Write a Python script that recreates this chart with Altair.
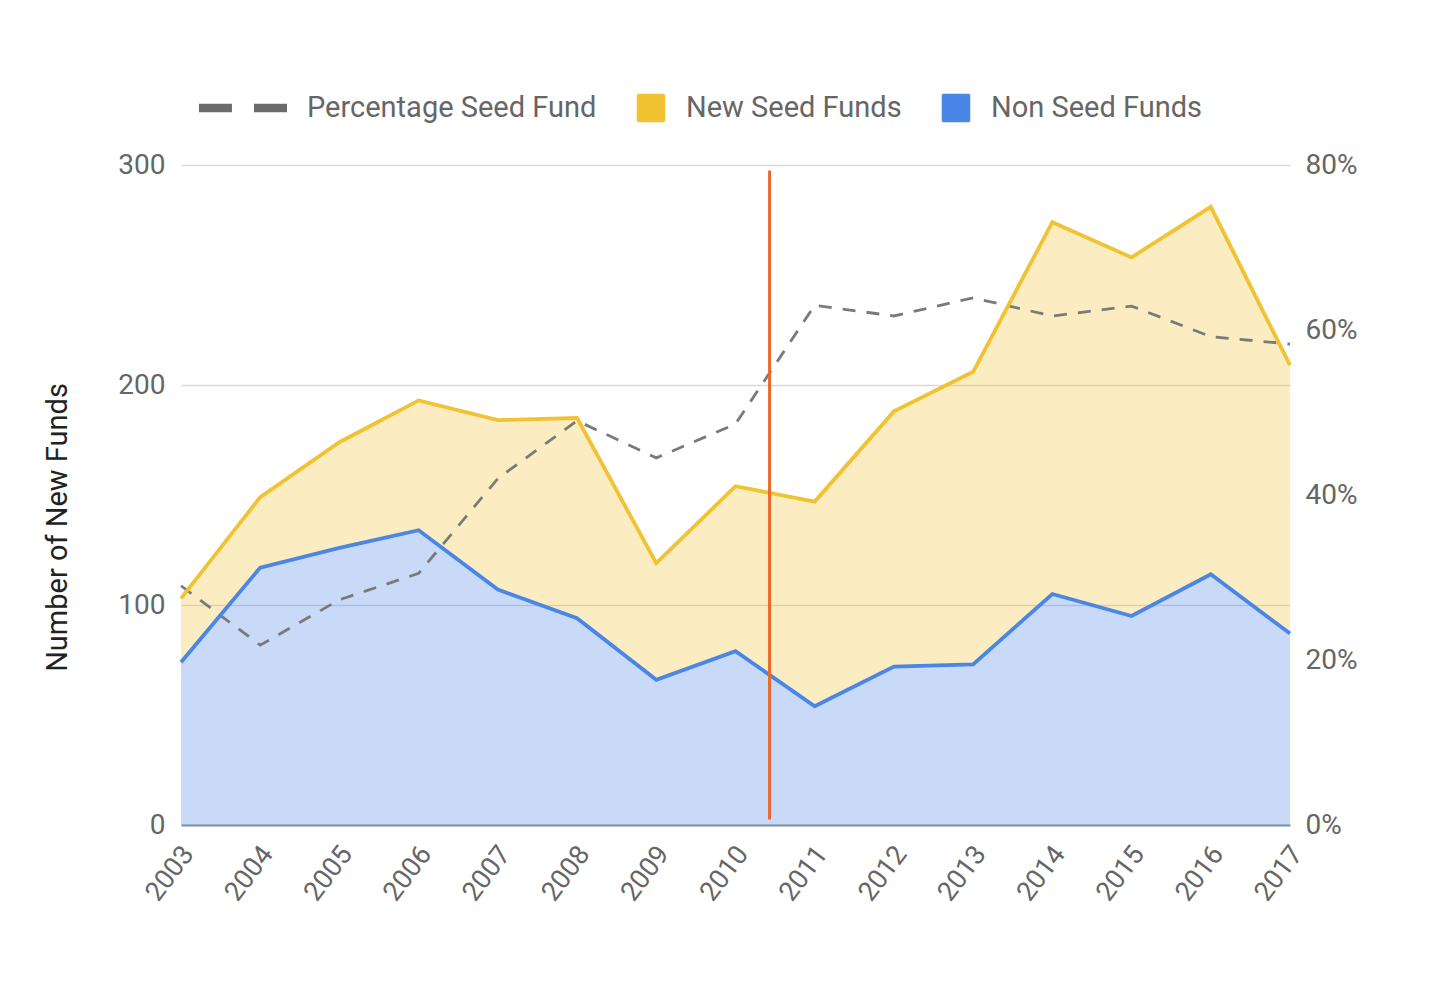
import altair as alt
import pandas as pd

# ---------------- data ----------------
years = list(range(2003, 2018))
non_seed = [74, 117, 126, 134, 107, 94, 66, 79, 54, 72, 73, 105, 95, 114, 87]
new_seed = [29, 32, 48, 59, 77, 91, 53, 75, 93, 116, 133, 169, 163, 167, 122]
pct_seed = [0.290, 0.218, 0.273, 0.305, 0.420, 0.490, 0.445, 0.486,
            0.630, 0.617, 0.639, 0.617, 0.629, 0.592, 0.583]

series_names = ["Percentage Seed Fund", "New Seed Funds", "Non Seed Funds"]
series_colors = ["#6b6b6b", "#F1C232", "#4A86E8"]

divider_year = [2010.43]
divider_low = [2.5]
divider_high = [297.5]

left_ticks = [0, 100, 200, 300]
right_ticks = [0, 0.2, 0.4, 0.6, 0.8]

# ---------------- tables ----------------
area_df = pd.DataFrame({
    "year": years + years,
    "series": ["Non Seed Funds"] * len(years) + ["New Seed Funds"] * len(years),
    "value": non_seed + new_seed,
    "order": [0] * len(years) + [1] * len(years),
})
pct_df = pd.DataFrame({"year": years, "pct": pct_seed})
legend_df = pd.DataFrame({"series": series_names})
rule_df = pd.DataFrame({"year": divider_year, "lo": divider_low, "hi": divider_high})

LABEL_FONT = "Roboto"
LABEL_SIZE = 28
LABEL_COLOR = "#666666"

x_scale = alt.Scale(domain=[2003, 2017], nice=False, zero=False)
color_scale = alt.Scale(domain=series_names, range=series_colors)

dash_path = "M-4.87,-0.28H-2.67V0.28H-4.87Z M-1.2,-0.28H1V0.28H-1.2Z"
sq_path = ("M-0.82,-0.95H0.82A0.13,0.13 0 0 1 0.95,-0.82V0.82A0.13,0.13 0 0 1 0.82,0.95"
           "H-0.82A0.13,0.13 0 0 1 -0.95,0.82V-0.82A0.13,0.13 0 0 1 -0.82,-0.95Z")
shape_scale = alt.Scale(domain=series_names, range=[dash_path, sq_path, sq_path])

legend = alt.Legend(
    title=None, orient="none", legendX=76, legendY=-72, direction="horizontal",
    labelFont=LABEL_FONT, labelFontSize=29, labelColor=LABEL_COLOR,
    labelLimit=500, labelOffset=20, columnPadding=39, padding=0,
    symbolSize=900, symbolOpacity=1, symbolStrokeWidth=0,
)

x_axis = alt.Axis(
    values=years, format="d", labelAngle=-53, title=None, grid=False,
    ticks=False, domain=True, domainColor="#8a909a", domainWidth=2,
    labelPadding=24, labelOffset=7, labelFont=LABEL_FONT, labelFontSize=27,
    labelColor=LABEL_COLOR, labelOverlap=False, labelAlign="right",
    labelBaseline="middle",
)
X = alt.X("year:Q", scale=x_scale, axis=x_axis)

left_axis = alt.Axis(
    orient="left", values=left_ticks, title="Number of New Funds", grid=True,
    gridColor="#d9d9d9", gridWidth=1.5, ticks=False, domain=False,
    labelPadding=16, labelFont=LABEL_FONT, labelFontSize=LABEL_SIZE,
    labelColor=LABEL_COLOR, titleFont=LABEL_FONT, titleFontSize=29,
    titleColor="#222222", titleFontWeight="normal", titleAngle=270,
    titleX=-124, titleY=362, titleAlign="center", titleBaseline="middle",
)


def left_scale():
    return alt.Scale(domain=[0, 300], nice=False)


stacked = alt.Chart(area_df).transform_stack(
    stack="value", groupby=["year"], as_=["y0", "y1"],
    sort=[alt.SortField("order", order="ascending")],
)

non_area = stacked.transform_filter(alt.datum.series == "Non Seed Funds").mark_area(
    color=series_colors[2], fillOpacity=0.3
).encode(x=X, y=alt.Y("y1:Q", scale=left_scale(), axis=left_axis), y2="y0:Q")

new_area = stacked.transform_filter(alt.datum.series == "New Seed Funds").mark_area(
    color=series_colors[1], fillOpacity=0.3
).encode(x=X, y=alt.Y("y1:Q", scale=left_scale(), axis=None), y2="y0:Q")

new_line = stacked.transform_filter(alt.datum.series == "New Seed Funds").mark_line(
    color=series_colors[1], strokeWidth=3.8
).encode(x=X, y=alt.Y("y1:Q", scale=left_scale(), axis=None))

non_line = stacked.transform_filter(alt.datum.series == "Non Seed Funds").mark_line(
    color=series_colors[2], strokeWidth=3.8
).encode(x=X, y=alt.Y("y1:Q", scale=left_scale(), axis=None))

divider = alt.Chart(rule_df).mark_rule(color="#EA6A2C", strokeWidth=3).encode(
    x=X,
    y=alt.Y("lo:Q", scale=left_scale(), axis=None),
    y2="hi:Q",
)

pct_line = alt.Chart(pct_df).mark_line(
    color="#7a7a7a", strokeWidth=2.8, strokeDash=[13, 11]
).encode(
    x=X,
    y=alt.Y(
        "pct:Q", scale=alt.Scale(domain=[0, 0.8], nice=False),
        axis=alt.Axis(
            orient="right", values=right_ticks, format=".0%", title=None,
            grid=False, ticks=False, domain=False, labelPadding=15,
            labelFont=LABEL_FONT, labelFontSize=LABEL_SIZE, labelColor=LABEL_COLOR,
        ),
    ),
)

legend_marks = alt.Chart(legend_df).mark_point(filled=True, opacity=0).encode(
    color=alt.Color("series:N", scale=color_scale, legend=legend),
    shape=alt.Shape("series:N", scale=shape_scale, legend=legend),
)

chart = alt.layer(
    non_area, new_area, pct_line, new_line, non_line, divider, legend_marks
).resolve_scale(y="independent").properties(
    width=1109, height=660,
    autosize=alt.AutoSizeParams(type="none"),
    padding={"left": 173, "top": 157, "right": 120, "bottom": 140},
    background="white",
).configure_view(stroke=None)

chart.save("out.html", embed_options={"renderer": "svg", "actions": False})
